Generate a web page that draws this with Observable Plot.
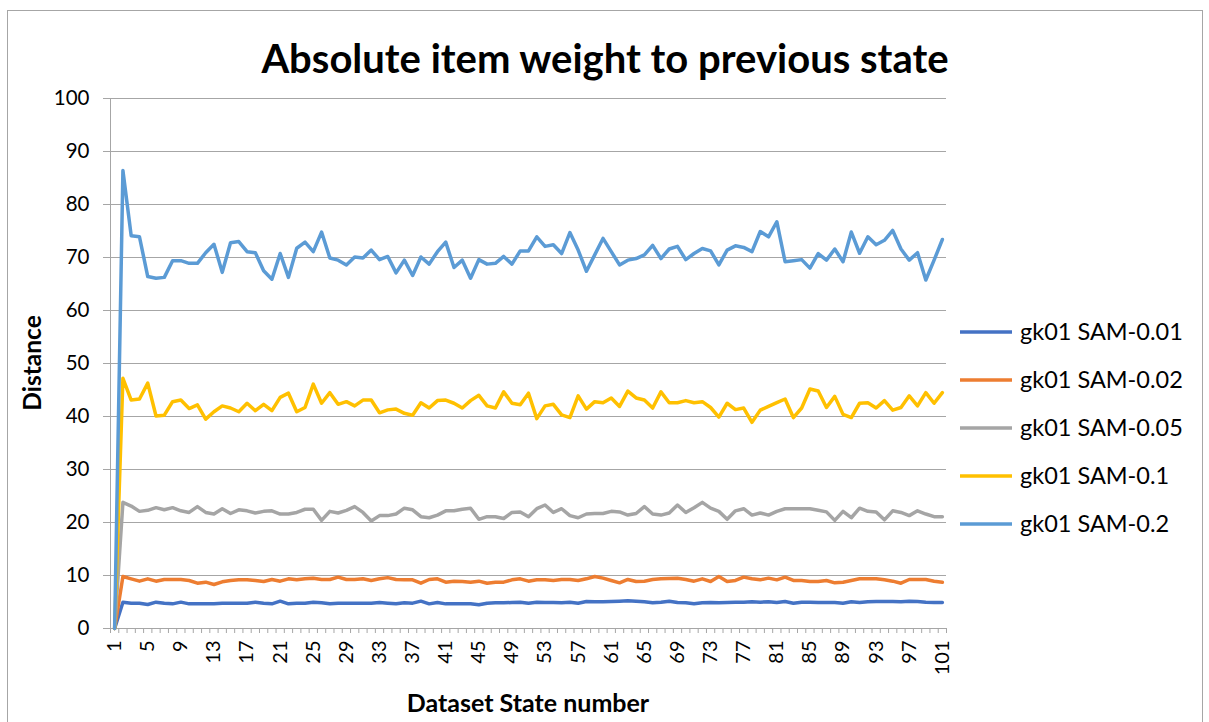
<!DOCTYPE html>
<html>
<head>
<meta charset="utf-8">
<script src="https://cdn.jsdelivr.net/npm/d3@7"></script>
<script src="https://cdn.jsdelivr.net/npm/@observablehq/plot@0.6"></script>
<style>
  body { margin: 0; background: #fff; }
  #chart { position: relative; width: 1209px; height: 722px; overflow: hidden; background: #fff; }
  #chart > svg { position: absolute; left: 0; top: 0; }
</style>
</head>
<body>
<div id="chart"></div>
<script>
// ---- data ----
const chartTitle = "Absolute item weight to previous state";
const xTitle = "Dataset State number";
const yTitle = "Distance";

const states = d3.range(1, 102); // categories 1..101
const xTickLabels = [1,5,9,13,17,21,25,29,33,37,41,45,49,53,57,61,65,69,73,77,81,85,89,93,97,101];
const yTicks = [0,10,20,30,40,50,60,70,80,90,100];

const seriesNames = ["gk01 SAM-0.01","gk01 SAM-0.02","gk01 SAM-0.05","gk01 SAM-0.1","gk01 SAM-0.2"];
const seriesColors = ["#4472C4","#ED7D31","#A5A5A5","#FFC000","#5B9BD5"];

const sam001 = [0,4.97,4.78,4.78,4.53,4.97,4.78,4.65,4.97,4.65,
  4.65,4.65,4.65,4.78,4.78,4.78,4.78,4.97,4.78,4.65,
  5.16,4.65,4.78,4.78,4.97,4.84,4.65,4.78,4.78,4.78,
  4.78,4.78,4.91,4.78,4.65,4.84,4.78,5.16,4.65,4.91,
  4.65,4.65,4.65,4.65,4.47,4.78,4.84,4.84,4.91,4.97,
  4.78,4.97,4.91,4.91,4.84,4.97,4.78,5.09,5.03,5.03,
  5.09,5.16,5.22,5.16,5.03,4.84,4.97,5.16,4.91,4.84,
  4.65,4.84,4.91,4.84,4.91,4.97,4.97,5.03,4.97,5.03,
  4.91,5.09,4.78,4.97,4.97,4.91,4.91,4.91,4.78,5.03,
  4.91,5.03,5.09,5.09,5.09,5.03,5.16,5.09,4.97,4.91,
  4.91];

const sam002 = [0,9.81,9.37,8.93,9.37,8.93,9.25,9.25,9.25,9.06,
  8.55,8.74,8.30,8.81,9.06,9.18,9.18,9.06,8.87,9.25,
  8.93,9.37,9.18,9.37,9.50,9.25,9.25,9.69,9.25,9.25,
  9.37,9.06,9.37,9.60,9.25,9.18,9.18,8.55,9.25,9.37,
  8.74,8.93,8.87,8.74,8.93,8.55,8.74,8.74,9.18,9.37,
  8.93,9.18,9.18,9.06,9.25,9.25,9.06,9.37,9.81,9.50,
  9.06,8.62,9.25,8.87,8.93,9.25,9.37,9.45,9.50,9.25,
  8.93,9.37,8.87,9.81,8.87,9.06,9.69,9.37,9.18,9.50,
  9.18,9.69,9.06,9.06,8.87,8.87,9.06,8.62,8.74,9.06,
  9.37,9.37,9.37,9.18,8.93,8.55,9.25,9.25,9.25,8.93,
  8.74];

const sam005 = [0,23.8,23.1,22.1,22.3,22.8,22.4,22.8,22.2,21.9,
  23.0,21.9,21.6,22.6,21.7,22.4,22.2,21.8,22.1,22.2,
  21.6,21.6,21.9,22.5,22.5,20.4,22.1,21.8,22.3,23.0,
  21.9,20.3,21.3,21.3,21.6,22.7,22.4,21.1,20.9,21.4,
  22.2,22.2,22.5,22.7,20.6,21.1,21.1,20.75,21.9,22.0,
  21.1,22.6,23.3,21.9,22.6,21.3,20.9,21.6,21.7,21.7,
  22.1,22.0,21.4,21.7,23.0,21.6,21.4,21.8,23.3,21.9,
  22.8,23.8,22.7,22.1,20.6,22.2,22.6,21.4,21.8,21.4,
  22.1,22.6,22.6,22.6,22.6,22.3,22.0,20.4,22.1,20.9,
  22.7,22.1,22.0,20.5,22.2,21.9,21.3,22.2,21.6,21.1,
  21.1];

const sam01 = [0,47.2,43.1,43.3,46.3,40.1,40.25,42.8,43.1,41.5,
  42.2,39.5,40.9,42.0,41.6,40.9,42.5,41.1,42.3,41.1,
  43.6,44.4,40.9,41.7,46.1,42.5,44.5,42.3,42.8,42.0,
  43.1,43.1,40.7,41.25,41.4,40.6,40.25,42.6,41.6,43.0,
  43.1,42.5,41.6,43.0,44.0,42.0,41.6,44.65,42.5,42.2,
  44.4,39.6,42.0,42.3,40.3,39.8,43.9,41.4,42.8,42.6,
  43.5,41.9,44.8,43.5,43.1,41.6,44.65,42.6,42.6,43.0,
  42.6,42.8,41.7,39.9,42.5,41.3,41.6,38.9,41.2,41.9,
  42.6,43.3,39.8,41.6,45.2,44.8,41.7,43.8,40.4,39.8,
  42.5,42.6,41.6,43.0,41.2,41.7,43.9,42.0,44.5,42.5,
  44.5];

const sam02 = [0,86.4,74.1,73.9,66.4,66.1,66.25,69.4,69.4,68.9,
  68.9,70.9,72.5,67.2,72.8,73.0,71.1,70.9,67.5,65.9,
  70.75,66.25,71.75,72.9,71.1,74.8,69.9,69.5,68.6,70.1,
  69.9,71.4,69.6,70.2,67.1,69.5,66.6,70.1,68.75,71.1,
  72.9,68.1,69.5,66.1,69.6,68.75,68.9,70.2,68.75,71.25,
  71.25,73.9,72.1,72.4,70.75,74.7,71.4,67.4,70.5,73.6,
  71.1,68.6,69.5,69.8,70.5,72.3,69.8,71.6,72.1,69.6,
  70.75,71.7,71.25,68.6,71.4,72.2,71.9,71.1,74.9,73.9,
  76.75,69.2,69.4,69.6,68.0,70.75,69.5,71.6,69.2,74.8,
  70.8,73.9,72.4,73.25,75.1,71.6,69.5,70.9,65.75,69.5,
  73.4];

const seriesValues = [sam001, sam002, sam005, sam01, sam02];

// ---- build table ----
const rows = [];
seriesNames.forEach((name, s) => {
  seriesValues[s].forEach((v, i) => rows.push({state: states[i], value: v, series: name}));
});
const catBounds = [0, ...states].map(d => d + 0.5);

const W = 1209, H = 722;
const font = "Lato, 'Open Sans', sans-serif";
const gridColor = "#a6a6a6";

const plot = Plot.plot({
  width: W, height: H,
  marginLeft: 110, marginRight: 263, marginTop: 98, marginBottom: 94,
  style: {fontFamily: font, fontSize: "20px", color: "#000", background: "transparent", overflow: "visible"},
  x: {domain: [0.5, 101.5]},
  y: {domain: [0, 100]},
  color: {domain: seriesNames, range: seriesColors},
  marks: [
    Plot.gridY(yTicks, {stroke: gridColor, strokeOpacity: 1, strokeWidth: 1}),
    Plot.axisY(yTicks, {tickSize: 7, tickPadding: 14, stroke: gridColor, fontSize: 20.5, label: null}),
    Plot.ruleX([0.5], {stroke: gridColor}),
    Plot.ruleY([0], {stroke: gridColor}),
    Plot.axisX(catBounds, {tickSize: 5, tickFormat: () => "", stroke: gridColor, label: null}),
    Plot.axisX(xTickLabels, {tickSize: 0, tickPadding: 12, tickRotate: -90, fontSize: 20, label: null}),
    Plot.lineY(rows, {x: "state", y: "value", z: "series", stroke: "series", strokeWidth: 3.5, strokeLinejoin: "round", strokeLinecap: "round"})
  ]
});
document.getElementById("chart").appendChild(plot);

// ---- overlay: frame, titles, legend ----
const ov = d3.select("#chart").append("svg")
  .attr("width", W).attr("height", H)
  .style("pointer-events", "none");

ov.append("rect").attr("x", 7.5).attr("y", 10.5).attr("width", 1195).attr("height", 720)
  .attr("fill", "none").attr("stroke", "#a6a6a6");

ov.append("text").attr("x", 605).attr("y", 73).attr("text-anchor", "middle")
  .attr("font-family", font).attr("font-weight", "bold").attr("font-size", 40)
  .text(chartTitle);

ov.append("text").attr("transform", "translate(41,363) rotate(-90)").attr("text-anchor", "middle")
  .attr("font-family", font).attr("font-weight", "bold").attr("font-size", 24.5)
  .text(yTitle);

ov.append("text").attr("x", 528).attr("y", 712).attr("text-anchor", "middle")
  .attr("font-family", font).attr("font-weight", "bold").attr("font-size", 25)
  .text(xTitle);

const leg = ov.append("g");
seriesNames.forEach((name, i) => {
  const y = 332 + i * 48;
  leg.append("line").attr("x1", 960).attr("x2", 1012).attr("y1", y).attr("y2", y)
    .attr("stroke", seriesColors[i]).attr("stroke-width", 3.5);
  leg.append("text").attr("x", 1020).attr("y", y + 8)
    .attr("font-family", font).attr("font-size", 23.5).text(name);
});
</script>
</body>
</html>
